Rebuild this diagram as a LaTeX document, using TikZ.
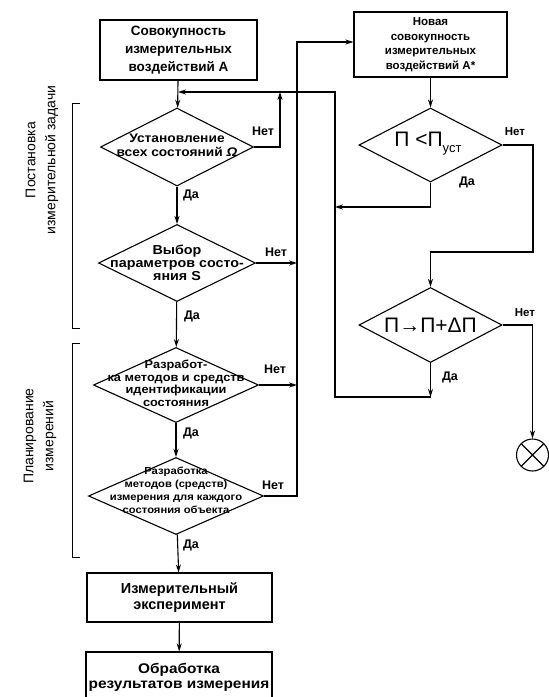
\documentclass[tikz,border=0pt]{standalone}
\usepackage{fontspec}
\setmainfont{Liberation Sans}
\newfontfamily\widefont[FakeStretch=1.1]{Liberation Sans}
\usetikzlibrary{shapes.geometric,arrows.meta}
\begin{document}
\begin{tikzpicture}[x=1pt,y=-1pt,
  every node/.style={inner sep=0pt},
  ln/.style={line width=1pt},
  arr/.style={line width=1.1pt,-{Stealth[length=8pt,width=5pt]}},
  box/.style={draw,line width=1.1pt,align=center,font=\bfseries\fontsize{13.5}{18}\selectfont},
  dia/.style={draw,diamond,line width=1.1pt},
  dtxt/.style={align=center,font=\widefont\bfseries\fontsize{12.5}{14.5}\selectfont},
  lab/.style={font=\bfseries\fontsize{12.5}{13}\selectfont},
  side/.style={rotate=90,align=center,font=\fontsize{14}{20}\selectfont},
  brk/.style={line width=0.8pt}]
\useasboundingbox (0,0) rectangle (549,697);
% left column
\node[box,minimum width=157,minimum height=60] (A) at (178.5,50) {Совокупность\\измерительных\\воздействий А};
\node[dia,minimum width=153,minimum height=78] (d1) at (177,147) {};
\node[dtxt] (t1) at (177,145.5) {Установление\\всех состояний \textit{Ω}};
\node[dia,minimum width=157,minimum height=77] (d2) at (177,263) {};
\node[dtxt,font=\widefont\bfseries\fontsize{13}{13}\selectfont] (t2) at (177,263) {Выбор\\параметров состо-\\яния S};
\node[dia,minimum width=165,minimum height=75] (d3) at (176,385) {};
\node[dtxt,font=\widefont\bfseries\fontsize{11.6}{12.5}\selectfont] (t3) at (176,383.5) {Разработ-\\ка методов и средств\\идентификации\\состояния};
\node[dia,minimum width=175,minimum height=77] (d4) at (176,496) {};
\node[dtxt,font=\widefont\bfseries\fontsize{10.2}{13}\selectfont] (t4) at (176,490) {Разработка\\методов (средств)\\измерения для каждого\\состояния объекта};
\node[box,font=\bfseries\fontsize{14.5}{15.5}\selectfont,minimum width=185,minimum height=49] (E) at (179.5,597.5) {Измерительный\\эксперимент};
\node[box,font=\widefont\bfseries\fontsize{14}{15}\selectfont,minimum width=186,minimum height=50] (R) at (179,677) {Обработка\\результатов измерения};
% right column
\node[box,font=\bfseries\fontsize{11.5}{14.5}\selectfont,minimum width=153,minimum height=65] (As) at (430.5,44.5) {Новая\\совокупность\\измерительных\\воздействий А*};
\node[dia,minimum width=143,minimum height=74] (P1) at (430.5,145) {};
\node[font=\fontsize{21}{22}\selectfont] (tp1) at (428,144) {П <П\raisebox{-6pt}{\fontsize{13}{13}\selectfont уст}};
\node[dia,minimum width=143,minimum height=75] (P2) at (430.5,325) {};
\node[font=\fontsize{21}{22}\selectfont] (tp2) at (430.5,325) {П→П+ΔП};
\node[draw,circle,line width=1.1pt,minimum size=32,
  path picture={\draw[line width=1.1pt] (path picture bounding box.north west) -- (path picture bounding box.south east)
  (path picture bounding box.north east) -- (path picture bounding box.south west);}] (X) at (532.5,455) {};
% coordinates
\coordinate (j1) at (178,92);
\coordinate (r1) at (280,92);
\coordinate (c1) at (335,92);
\coordinate (c2) at (335,207);
\coordinate (c3) at (335,397);
\coordinate (p1b) at (430.5,207);
\coordinate (p2b) at (430.5,397);
\coordinate (v1) at (297,42);
\coordinate (v2) at (297,263);
\coordinate (v3) at (297,385);
\coordinate (v4) at (297,496);
\coordinate (q1) at (533,252);
\coordinate (q2) at (430.5,252);
% connectors
\draw[arr] (A) -- (d1);
\draw[arr] (d1) -- (d2);
\draw[arr] (d2) -- (d3);
\draw[arr] (d3) -- (d4);
\draw[arr] (d4) -- (E);
\draw[arr] (E) -- (R);
\draw[arr] (d1.east) -| (r1);
\draw[arr] (d2.east) -- (v2);
\draw[arr] (d3.east) -- (v3);
\draw[arr] (d4.east) -- (v4) -- (v1) -- (v1 -| As.west);
\draw[arr] (As) -- (P1);
\draw[arr] (P1.south) -- (p1b) -- (c2);
\draw[arr] (P1.east) -| (q1) -- (q2) -- (P2);
\draw[arr] (P2.south) -- (p2b);
\draw[arr] (p2b) -- (c3) -- (c1) -- (j1);
\draw[arr] (P2.east) -| (X.north);
% labels
\node[lab] (n1) at (263,131) {Нет};
\node[lab] (y1) at (191,195) {Да};
\node[lab] (n2) at (276,252) {Нет};
\node[lab] (y2) at (192,316) {Да};
\node[lab] (n3) at (275,369) {Нет};
\node[lab] (y3) at (191,433) {Да};
\node[lab] (n4) at (273,485) {Нет};
\node[lab] (y4) at (191,545) {Да};
\node[lab,font=\bfseries\fontsize{11.5}{12}\selectfont] (n5) at (515,132) {Нет};
\node[lab] (y5) at (467,182) {Да};
\node[lab,font=\bfseries\fontsize{11.5}{12}\selectfont] (n6) at (525,313) {Нет};
\node[lab] (y6) at (450,377) {Да};
% side labels and brackets
\node[side] (L1) at (42,160) {Постановка\\измерительной задачи};
\node[side] (L2) at (40,436) {Планирование\\измерений};
\draw[brk] (80,103) -- (72,103) -- (72,328) -- (80,328);
\draw[brk] (80,343) -- (72,343) -- (72,557) -- (80,557);
\end{tikzpicture}
\end{document}
